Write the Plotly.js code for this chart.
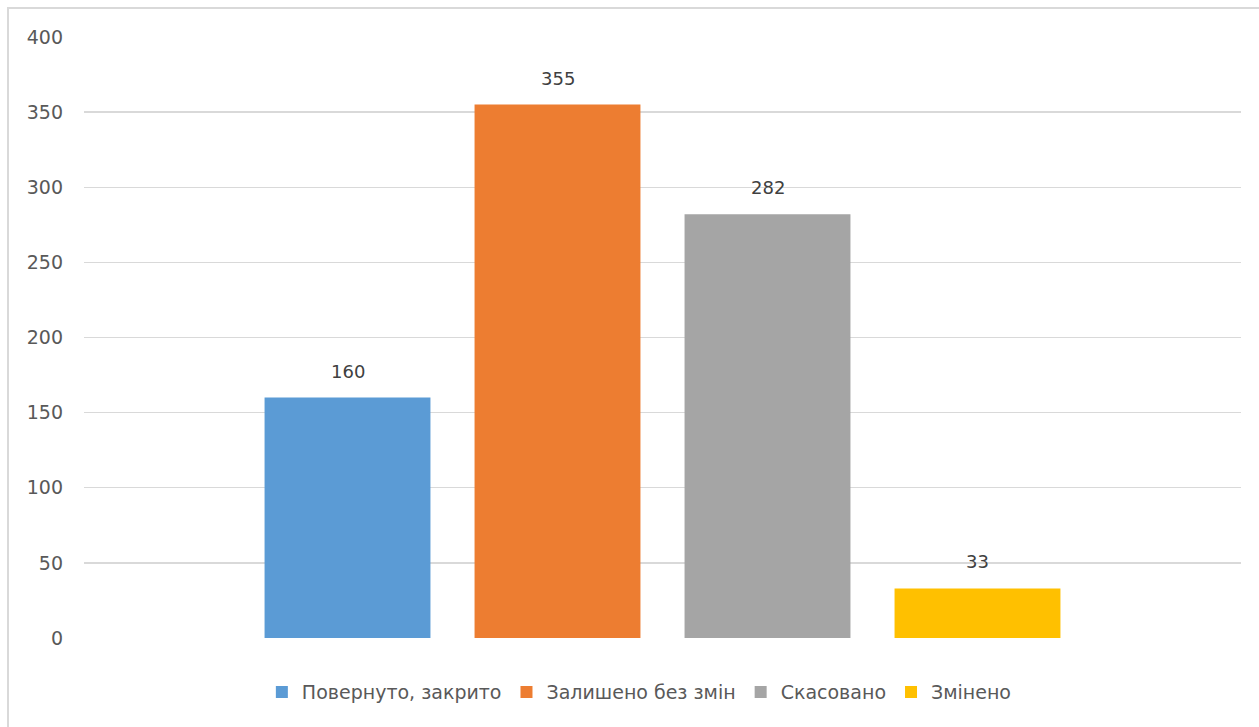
<!DOCTYPE html>
<html>
<head>
<meta charset="utf-8">
<script src="https://cdn.plot.ly/plotly-3.0.1.min.js"></script>
<style>
  html, body { margin: 0; padding: 0; background: #fff; overflow: hidden; }
  #wrap { position: relative; width: 1259px; height: 727px; }
  #chart { position: absolute; left: 0; top: 0; width: 1259px; height: 727px; }
  #frame { position: absolute; left: 7px; top: 7px; width: 1300px; height: 800px;
           border-left: 2px solid #d9d9d9; border-top: 2px solid #d9d9d9; pointer-events: none; }
</style>
</head>
<body>
<div id="wrap">
  <div id="chart"></div>
  <div id="frame"></div>
</div>
<script>
const category = ['Рішення'];
const seriesNames = ['Повернуто, закрито', 'Залишено без змін', 'Скасовано', 'Змінено'];
const seriesValues = [160, 355, 282, 33];
const seriesColors = ['#5B9BD5', '#ED7D31', '#A5A5A5', '#FFC000'];
const yTicks = [0, 50, 100, 150, 200, 250, 300, 350, 400];

const font = 'DejaVu Sans, Noto Sans, sans-serif';
const bargap = 0.274;
const nSeries = seriesNames.length;

const traces = seriesNames.map((name, i) => ({
  type: 'bar',
  name: name,
  x: category,
  y: [seriesValues[i]],
  marker: { color: seriesColors[i] },
  hoverinfo: 'name+y'
}));

// data labels: placed on the category axis at each series' group slot
const slot = (1 - bargap) / nSeries;
const annotations = seriesValues.map((v, i) => ({
  xref: 'x',
  yref: 'y',
  x: 0 + (i - (nSeries - 1) / 2) * slot,
  y: v,
  text: String(v),
  showarrow: false,
  xanchor: 'center',
  yanchor: 'bottom',
  yshift: 14,
  font: { family: font, size: 18, color: '#404040' }
}));

const layout = {
  width: 1259,
  height: 727,
  margin: { l: 84, r: 18, t: 37, b: 89 },
  paper_bgcolor: '#ffffff',
  plot_bgcolor: '#ffffff',
  barmode: 'group',
  bargap: bargap,
  bargroupgap: 0.21,
  showlegend: true,
  annotations: annotations,
  legend: {
    orientation: 'h',
    x: 0.480,
    xanchor: 'center',
    y: -0.09,
    yanchor: 'middle',
    font: { family: font, size: 19, color: '#595959' },
    itemwidth: 30,
    traceorder: 'normal'
  },
  xaxis: {
    showticklabels: false,
    showgrid: false,
    zeroline: false,
    showline: false,
    ticks: ''
  },
  yaxis: {
    range: [0, 400],
    tickvals: yTicks,
    ticktext: yTicks.map(String),
    showgrid: true,
    gridcolor: '#d9d9d9',
    gridwidth: 1.3,
    zeroline: false,
    showline: false,
    ticks: '',
    ticklabelstandoff: 20,
    tickfont: { family: font, size: 19, color: '#595959' }
  }
};

Plotly.newPlot('chart', traces, layout, { displayModeBar: false, staticPlot: true });
</script>
</body>
</html>
